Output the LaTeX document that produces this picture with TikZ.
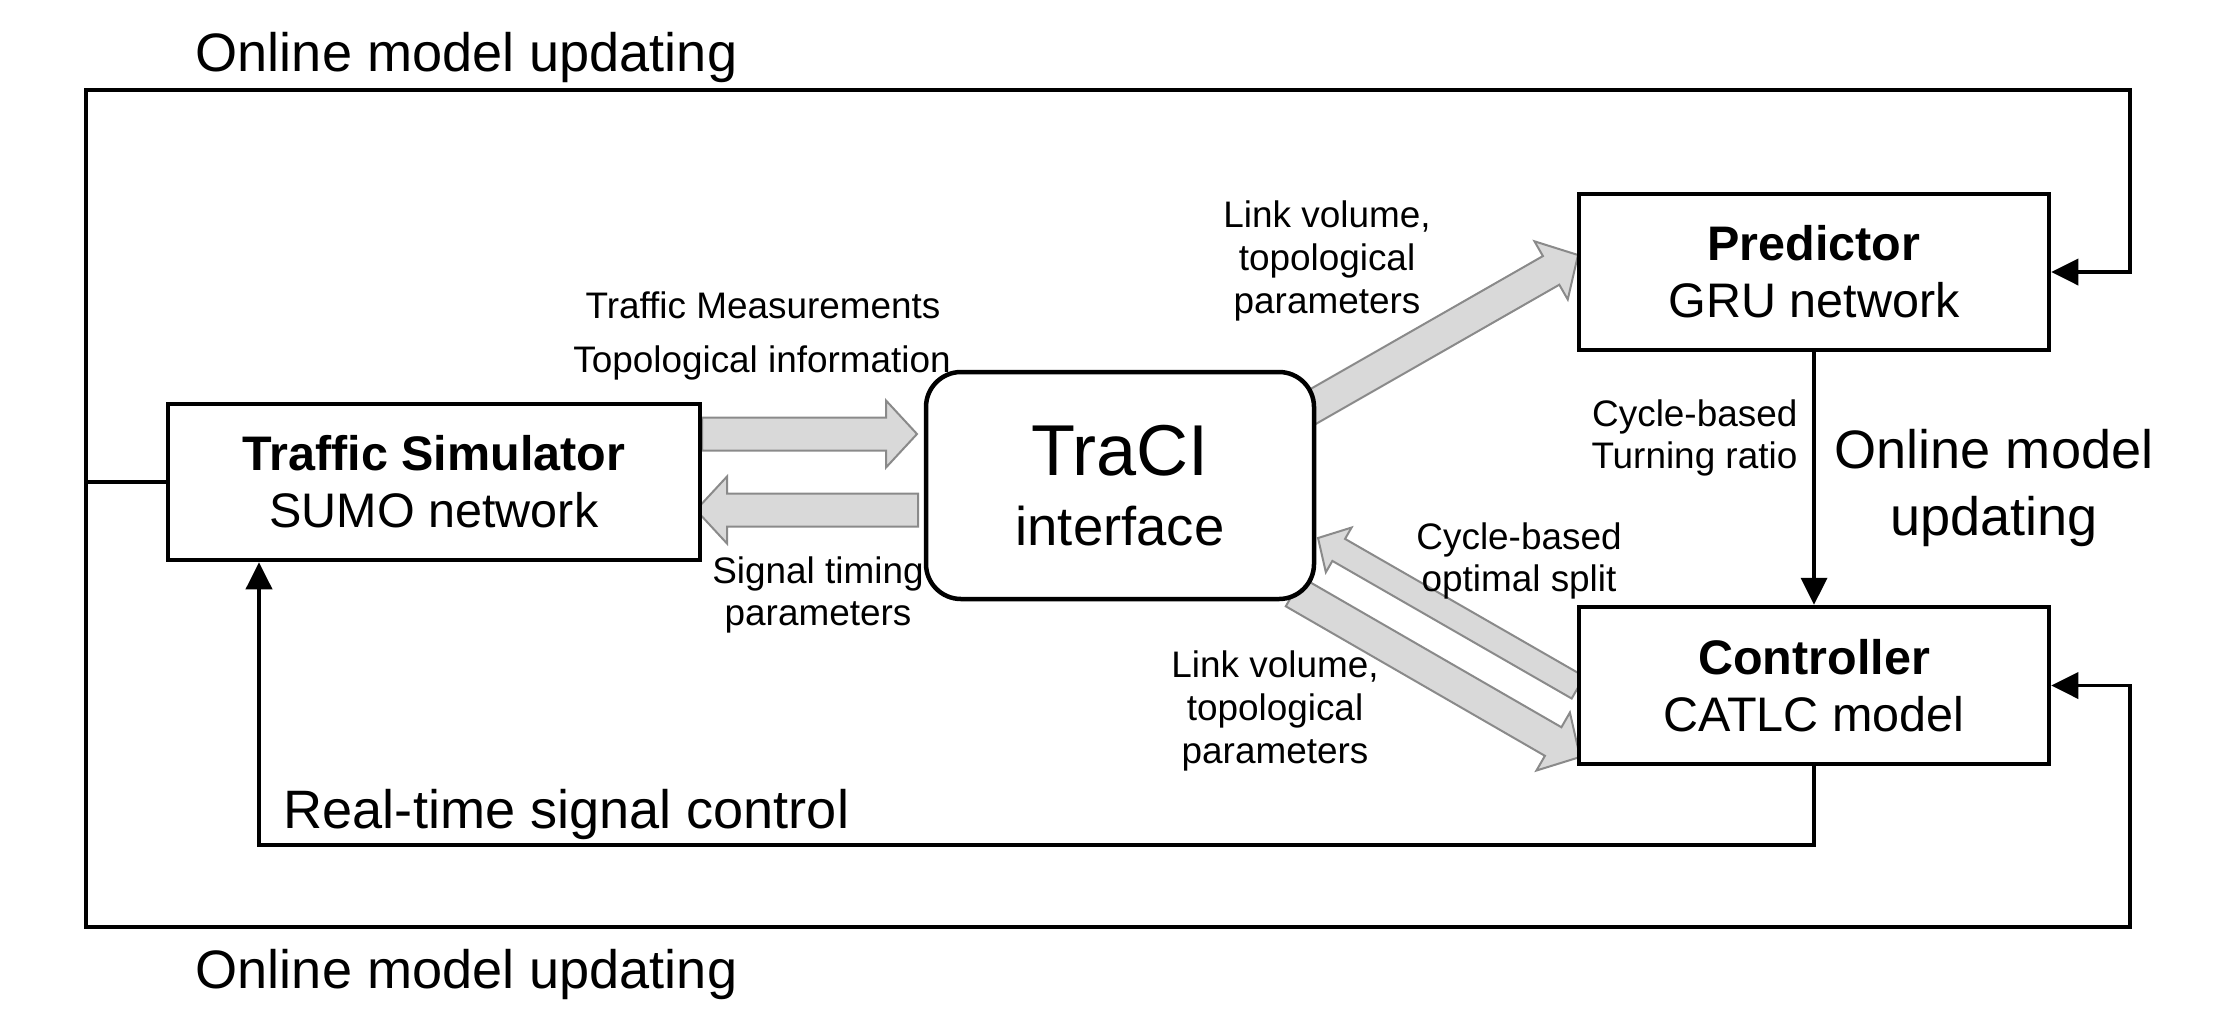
\documentclass[tikz,border=0pt]{standalone}
\usepackage{fontspec}
\setmainfont{Liberation Sans}
\usepackage{tikz}
\usetikzlibrary{positioning,calc,arrows.meta}
\definecolor{fatfill}{HTML}{D9D9D9}
\definecolor{fatline}{HTML}{8A8A8A}
\tikzset{
  >={Triangle[length=2.7mm,width=2.6mm]},
  % --- nodes
  blk/.style    = {draw, line width=0.45mm, fill=white, align=center, inner sep=0pt,
                   font=\fontsize{13.8}{16.2}\selectfont},
  iface/.style  = {blk, rounded corners=3.5mm, font=\fontsize{15.5}{19.9}\selectfont},
  biglbl/.style = {font=\fontsize{15.4}{19}\selectfont, align=center, inner sep=0pt},
  lbl/.style    = {font=\fontsize{10.5}{12.2}\selectfont, align=center, inner sep=0pt},
  % --- edges
  flow/.style   = {line width=0.38mm},
  fat/.style    = {fill=fatfill, draw=fatline, line width=0.2mm, line join=miter},
}
% fat grey arrow from tail #2 to tip #3, #1 = scale
\newcommand\fatarrow[3][1]{%
  \coordinate (fah) at ($(#3)!#1*3.1mm!(#2)$);
  \filldraw[fat] ($(#2)!#1*1.65mm!90:(#3)$) -- ($(fah)!#1*1.65mm!-90:(#2)$)
    -- ($(fah)!#1*3.35mm!-90:(#2)$) -- (#3)
    -- ($(fah)!#1*3.35mm!90:(#2)$) -- ($(fah)!#1*1.65mm!90:(#2)$)
    -- ($(#2)!#1*1.65mm!-90:(#3)$) -- cycle;
}

\begin{document}
\begin{tikzpicture}[x=0.1mm, y=0.1mm]
  \useasboundingbox (0,0) rectangle (2216,1031);

  % fat arrow ends
  \coordinate (meas-a) at (702,597);
  \coordinate (meas-b) at (917,597);
  \coordinate (sig-a)  at (918,521);
  \coordinate (sig-b)  at (696,521);
  \coordinate (lvp-a)  at (1300,617);
  \coordinate (lvp-b)  at (1578,776);
  \coordinate (spl-a)  at (1578,343.5);
  \coordinate (spl-b)  at (1318,493);
  \coordinate (lvc-a)  at (1294,439);
  \coordinate (lvc-b)  at (1580,274);

  \fatarrow{meas-a}{meas-b}
  \fatarrow{sig-a}{sig-b}
  \fatarrow{lvp-a}{lvp-b}
  \fatarrow[0.77]{spl-a}{spl-b}
  \fatarrow{lvc-a}{lvc-b}

  % blocks
  \node[blk, minimum width=53.2mm, minimum height=15.6mm] (sim) at (434,549)
    {\textbf{Traffic Simulator}\\SUMO network};
  \node[iface, minimum width=38.8mm, minimum height=22.7mm] (traci) at (1120,545.5)
    {{\fontsize{20.5}{24}\selectfont TraCI}\\interface};
  \node[blk, minimum width=47mm, minimum height=15.6mm] (pred) at (1814,759)
    {\textbf{Predictor}\\GRU network};
  \node[blk, minimum width=47mm, minimum height=15.7mm] (ctrl) at (1814,345.5)
    {\textbf{Controller}\\CATLC model};

  % loops
  \coordinate (jn) at (86,549);
  \coordinate (rt) at (259,186);
  \draw[flow, ->] (sim.west) -- (jn) |- (2130,941) |- (pred.east);
  \draw[flow, ->] (jn) |- (2130,104) |- (ctrl.east);
  \draw[flow, ->] (pred.south) -- (ctrl.north);
  \draw[flow, ->] (ctrl.south) |- (rt) -- (rt |- sim.south);

  % labels
  \node[biglbl, anchor=west] (upd-top) at (195,973) {Online model updating};
  \node[biglbl, anchor=west] (upd-bot) at (195,57) {Online model updating};
  \node[biglbl] (upd-right) at (1994,543) {Online model\\updating};
  \node[biglbl, anchor=west] (rt-lbl) at (283,217) {Real-time signal control};
  \node[lbl] (meas-lbl) at (763,726) {Traffic Measurements};
  \node[lbl] (topo-lbl) at (762,668) {Topological information};
  \node[lbl] (sig-lbl) at (818,436) {Signal timing\\parameters};
  \node[lbl] (lvp-lbl) at (1327,770) {Link volume,\\topological\\parameters};
  \node[lbl] (spl-lbl) at (1519,470) {Cycle-based\\optimal split};
  \node[lbl] (lvc-lbl) at (1275,320) {Link volume,\\topological\\parameters};
  \node[lbl, anchor=east, align=right] (turn-lbl) at (1798,593) {Cycle-based\\Turning ratio};
\end{tikzpicture}
\end{document}
